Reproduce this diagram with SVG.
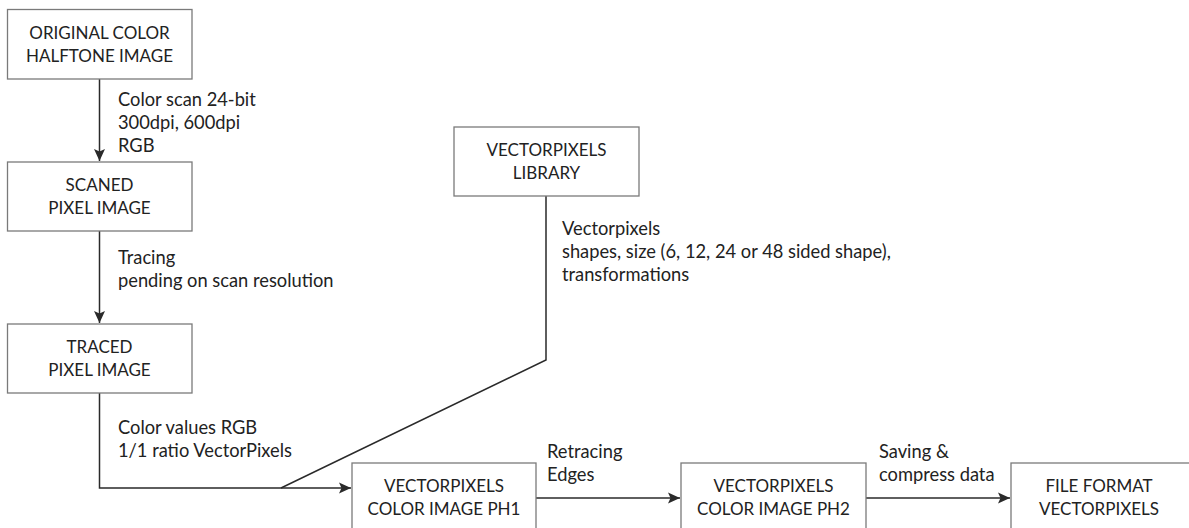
<svg xmlns="http://www.w3.org/2000/svg" width="1189" height="528" viewBox="0 0 1189 528">
<style>
.box{fill:#fff;stroke:#7a7a7a;stroke-width:1.3}
.t{font-family:Lato,"Liberation Sans",sans-serif;font-size:17px;fill:#222;text-anchor:middle}
.l{font-family:Lato,"Liberation Sans",sans-serif;font-size:18.3px;fill:#222}
.c{fill:none;stroke:#2a2a2a;stroke-width:1.5}
</style>
<defs>
<marker id="ah" viewBox="0 0 12 12" refX="12" refY="6" markerWidth="12" markerHeight="12" markerUnits="userSpaceOnUse" orient="auto">
<path d="M0,0.5 L12,6 L0,11.5 L2.5,6 Z" fill="#2a2a2a"/>
</marker>
</defs>
<rect width="1189" height="528" fill="#fff"/>
<g id="connectors">
<line class="c" x1="99.5" y1="79" x2="99.5" y2="161" marker-end="url(#ah)"/>
<line class="c" x1="99.5" y1="231" x2="99.5" y2="323" marker-end="url(#ah)"/>
<polyline class="c" points="99.5,393 99.5,488 351,488" marker-end="url(#ah)"/>
<polyline class="c" points="546,196 546,360 281,488"/>
<line class="c" x1="536" y1="498" x2="680" y2="498" marker-end="url(#ah)"/>
<line class="c" x1="866" y1="498" x2="1010" y2="498" marker-end="url(#ah)"/>
<text class="l" x="118" y="106">Color scan 24-bit</text>
<text class="l" x="118" y="129">300dpi, 600dpi</text>
<text class="l" x="118" y="152">RGB</text>
<text class="l" x="118" y="264">Tracing</text>
<text class="l" x="118" y="287">pending on scan resolution</text>
<text class="l" x="118" y="434">Color values RGB</text>
<text class="l" x="118" y="457">1/1 ratio VectorPixels</text>
<text class="l" x="562" y="235">Vectorpixels</text>
<text class="l" x="562" y="258">shapes, size (6, 12, 24 or 48 sided shape),</text>
<text class="l" x="562" y="281">transformations</text>
<text class="l" x="547" y="458">Retracing</text>
<text class="l" x="547" y="481">Edges</text>
<text class="l" x="879" y="458">Saving &amp;</text>
<text class="l" x="879" y="481">compress data</text>
</g>
<g id="n-original">
<rect class="box" x="7.5" y="9.5" width="184.5" height="69.5"/>
<text class="t" x="99.5" y="39">ORIGINAL COLOR</text>
<text class="t" x="99.5" y="62">HALFTONE IMAGE</text>
</g>
<g id="n-scaned">
<rect class="box" x="7.5" y="162" width="184.5" height="69"/>
<text class="t" x="99.5" y="191">SCANED</text>
<text class="t" x="99.5" y="214">PIXEL IMAGE</text>
</g>
<g id="n-traced">
<rect class="box" x="7.5" y="324" width="184.5" height="69"/>
<text class="t" x="99.5" y="353">TRACED</text>
<text class="t" x="99.5" y="376">PIXEL IMAGE</text>
</g>
<g id="n-library">
<rect class="box" x="454" y="127" width="185" height="69"/>
<text class="t" x="546.5" y="156">VECTORPIXELS</text>
<text class="t" x="546.5" y="179">LIBRARY</text>
</g>
<g id="n-ph1">
<rect class="box" x="352" y="463" width="184" height="80"/>
<text class="t" x="444" y="492">VECTORPIXELS</text>
<text class="t" x="444" y="515">COLOR IMAGE PH1</text>
</g>
<g id="n-ph2">
<rect class="box" x="681" y="463" width="185" height="80"/>
<text class="t" x="773.5" y="492">VECTORPIXELS</text>
<text class="t" x="773.5" y="515">COLOR IMAGE PH2</text>
</g>
<g id="n-file">
<rect class="box" x="1011" y="463" width="190" height="80"/>
<text class="t" x="1099" y="492">FILE FORMAT</text>
<text class="t" x="1099" y="515">VECTORPIXELS</text>
</g>
</svg>
